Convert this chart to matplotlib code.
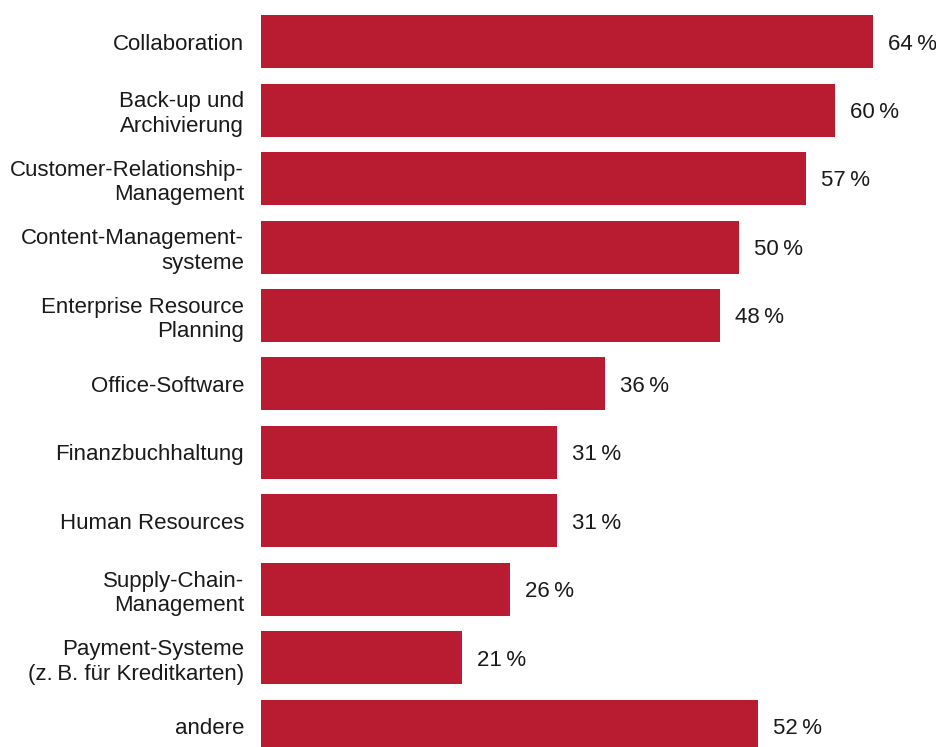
import matplotlib
matplotlib.use("Agg")
import matplotlib.pyplot as plt

categories = [
    "Collaboration",
    "Back-up und\nArchivierung",
    "Customer-Relationship-\nManagement",
    "Content-Management-\nsysteme",
    "Enterprise Resource\nPlanning",
    "Office-Software",
    "Finanzbuchhaltung",
    "Human Resources",
    "Supply-Chain-\nManagement",
    "Payment-Systeme\n(z.\u2009B. für Kreditkarten)",
    "andere",
]
values = [64, 60, 57, 50, 48, 36, 31, 31, 26, 21, 52]

BAR_COLOR = "#b91c31"
TEXT_COLOR = "#1a1a1a"
FONT_SIZE = 16

plt.rcParams["font.family"] = ["Liberation Sans", "DejaVu Sans"]

W, H = 936, 747
fig = plt.figure(figsize=(W / 100, H / 100), dpi=100)
ax_left = 261 / W
ax = fig.add_axes([ax_left, 0, 1 - ax_left, 1])

xmax = (W - 261) / 9.5625
ax.set_xlim(0, xmax)
pitch = 68.5
first_center = 41.5
ax.set_ylim((H - first_center) / pitch, -first_center / pitch)

ypos = list(range(len(categories)))
ax.barh(ypos, values, height=53 / pitch, color=BAR_COLOR, linewidth=0)

px = 72 / 100  # points per pixel
for y, v in zip(ypos, values):
    ax.annotate(f"{v}\u2009%", xy=(v, y), xytext=(15 * px, -2.5 * px),
                textcoords="offset points", va="center", ha="left",
                fontsize=FONT_SIZE, color=TEXT_COLOR)

ax.set_yticks(ypos)
ax.set_yticklabels(categories, fontsize=FONT_SIZE, color=TEXT_COLOR,
                   linespacing=1.2)
for lbl in ax.get_yticklabels():
    lbl.set_y(lbl.get_position()[1])
ax.tick_params(axis="y", length=0, pad=17 * px)
ax.set_xticks([])
for s in ax.spines.values():
    s.set_visible(False)

fig.savefig("out.png", dpi=100)
